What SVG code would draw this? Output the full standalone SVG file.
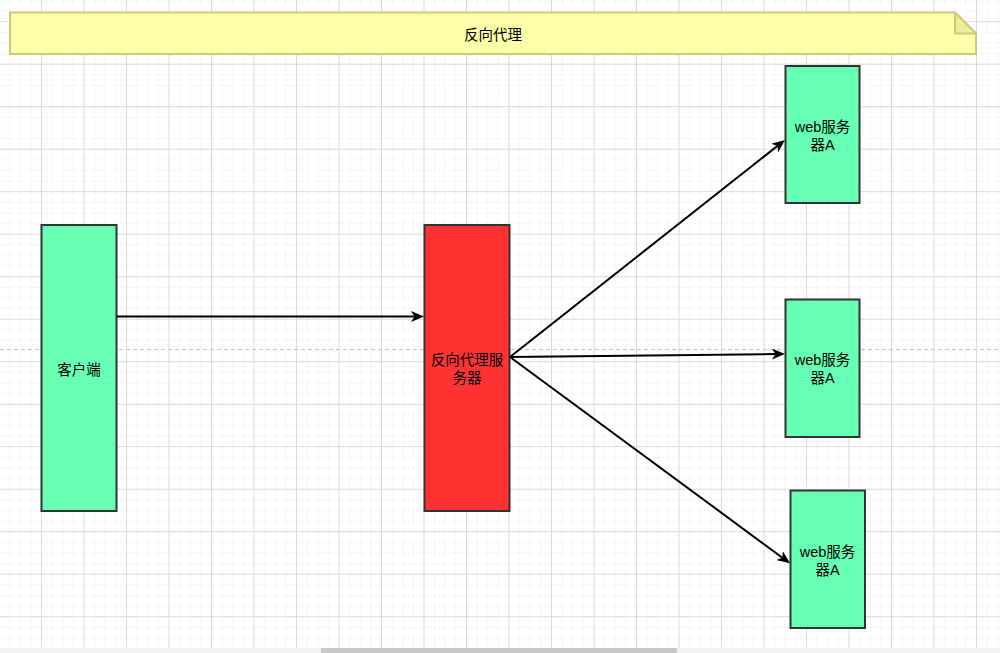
<svg xmlns="http://www.w3.org/2000/svg" width="1000" height="653" viewBox="0 0 1000 653">
  <style>
    .lbl { font-family: "Liberation Sans", "Noto Sans CJK SC", sans-serif; font-size: 14.5px; fill: #000000; text-anchor: middle; dominant-baseline: central; }
    .green { fill: #66FFB3; stroke: #333333; stroke-width: 2; }
    .red { fill: #FF3333; stroke: #333333; stroke-width: 2; }
    .edge { fill: none; stroke: #000000; stroke-width: 2; }
  </style>
  <defs>
    <pattern id="grid" patternUnits="userSpaceOnUse" x="41" y="21.2" width="42.5" height="42.5">
      <rect x="10.625" y="0" width="1" height="42.5" fill="#f5f5f5"/>
      <rect x="21.25" y="0" width="1" height="42.5" fill="#f5f5f5"/>
      <rect x="31.875" y="0" width="1" height="42.5" fill="#f5f5f5"/>
      <rect x="0" y="10.625" width="42.5" height="1" fill="#f5f5f5"/>
      <rect x="0" y="21.25" width="42.5" height="1" fill="#f5f5f5"/>
      <rect x="0" y="31.875" width="42.5" height="1" fill="#f5f5f5"/>
      <rect x="0" y="0" width="1" height="42.5" fill="#dadada"/>
      <rect x="0" y="0" width="42.5" height="1" fill="#dadada"/>
    </pattern>
    <marker id="arrow" markerUnits="userSpaceOnUse" viewBox="0 0 13 11" refX="3.5" refY="5.5" markerWidth="13" markerHeight="11" orient="auto">
      <path d="M0,0 L13,5.5 L0,11 L3.5,5.5 Z" fill="#000000"/>
    </marker>
  </defs>

  <rect x="0" y="0" width="1000" height="653" fill="#ffffff"/>
  <rect x="0" y="0" width="1000" height="653" fill="url(#grid)"/>
  <line x1="0" y1="349.5" x2="1000" y2="349.5" stroke="#c4c4c4" stroke-width="1" stroke-dasharray="4 3"/>

  <g id="note">
    <path d="M10,12.5 L955,12.5 L976,33.5 L976,54 L10,54 Z" fill="#FFFFAA" stroke="#CCCC77" stroke-width="2"/>
    <path d="M955,12.5 L955,33.5 L976,33.5 Z" fill="#EEEE99" stroke="#CCCC77" stroke-width="2" stroke-linejoin="round"/>
    <text class="lbl" x="493" y="35">反向代理</text>
  </g>

  <g id="client">
    <rect class="green" x="41.5" y="225" width="75" height="286"/>
    <text class="lbl" x="79" y="370">客户端</text>
  </g>

  <g id="proxy">
    <rect class="red" x="424.5" y="225" width="85" height="286"/>
    <text class="lbl" x="467" y="360">反向代理服</text>
    <text class="lbl" x="467" y="378">务器</text>
  </g>

  <g id="webA1">
    <rect class="green" x="785.5" y="66" width="74" height="137"/>
    <text class="lbl" x="822.5" y="127">web服务</text>
    <text class="lbl" x="822.5" y="145">器A</text>
  </g>

  <g id="webA2">
    <rect class="green" x="785.5" y="299.5" width="74" height="137.5"/>
    <text class="lbl" x="822.5" y="360">web服务</text>
    <text class="lbl" x="822.5" y="378">器A</text>
  </g>

  <g id="webA3">
    <rect class="green" x="790.5" y="490.5" width="74.5" height="137.5"/>
    <text class="lbl" x="827.5" y="552">web服务</text>
    <text class="lbl" x="827.5" y="570">器A</text>
  </g>

  <g id="connectors">
    <line class="edge" x1="116.5" y1="316.5" x2="414.5" y2="316.5" marker-end="url(#arrow)"/>
    <line class="edge" x1="510" y1="357" x2="777.5" y2="145.9" marker-end="url(#arrow)"/>
    <line class="edge" x1="510" y1="357" x2="775.5" y2="354" marker-end="url(#arrow)"/>
    <line class="edge" x1="510" y1="357" x2="782.4" y2="557.7" marker-end="url(#arrow)"/>
  </g>

  <rect x="0" y="648" width="1000" height="5" fill="#f1f1f1"/>
  <rect x="321" y="648" width="356" height="5" fill="#c8c8c8"/>
</svg>
